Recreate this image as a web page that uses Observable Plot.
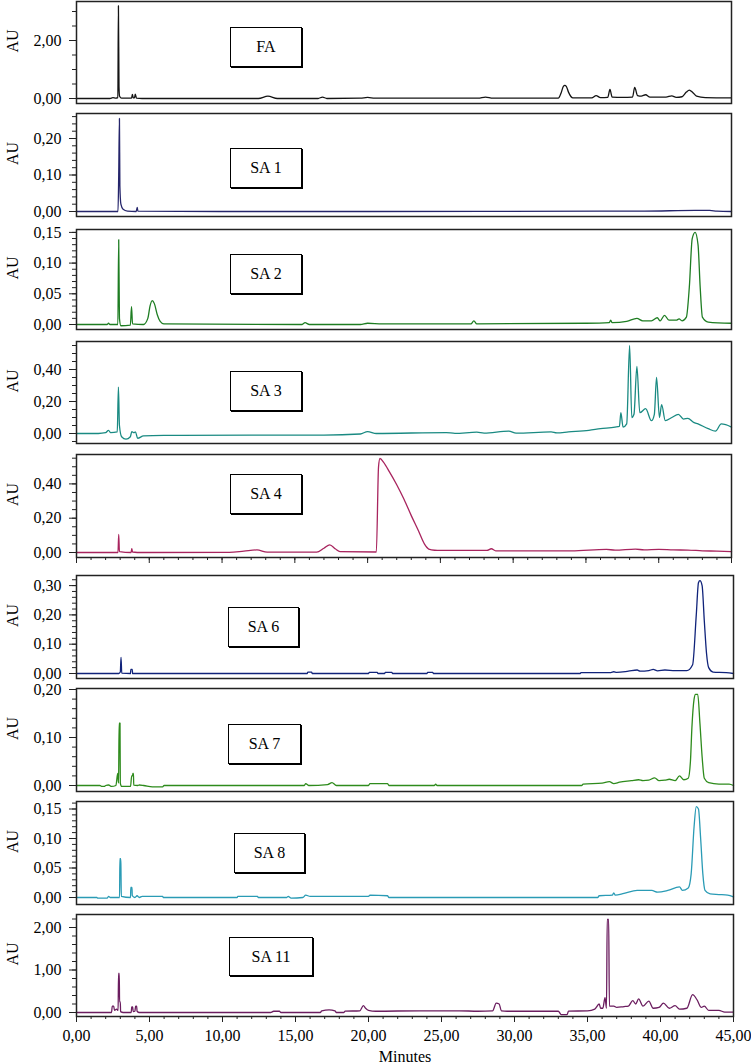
<!DOCTYPE html>
<html><head><meta charset="utf-8">
<script src="https://cdn.jsdelivr.net/npm/d3@7"></script>
<script src="https://cdn.jsdelivr.net/npm/@observablehq/plot@0.6"></script>
<style>
html,body{margin:0;padding:0;background:#fff;overflow:hidden;}
#chart{position:relative;width:751px;height:1064px;font-family:"Liberation Serif",serif;}
.panel{position:absolute;left:0;}
.label-box{position:absolute;border:1.6px solid #000;box-shadow:1px 1px 0 #000;background:#fff;display:flex;align-items:center;justify-content:center;font-family:"Liberation Serif",serif;font-size:16px;color:#000;box-sizing:border-box;white-space:pre;}
</style></head><body><div id="chart"></div>
<script>
// ---------- DATA ----------
const sampleNames = ["FA","SA 1","SA 2","SA 3","SA 4","SA 6","SA 7","SA 8","SA 11"];
const xMajorTicks = [0,5,10,15,20,25,30,35,40,45];
const xMinorTicks = [0,1,2,3,4,5,6,7,8,9,10,11,12,13,14,15,16,17,18,19,20,21,22,23,24,25,26,27,28,29,30,31,32,33,34,35,36,37,38,39,40,41,42,43,44,45];
const xLabel = "Minutes";
const yLabel = "AU";

const faTicks = [0,2];
const faMinor = [0,0.5,1,1.5,2,2.5,3];
const sa1Ticks = [0,0.1,0.2];
const sa1Minor = [0,0.02,0.04,0.06,0.08,0.1,0.12,0.14,0.16,0.18,0.2,0.22,0.24,0.26];
const sa2Ticks = [0,0.05,0.1,0.15];
const sa2Minor = [0,0.01,0.02,0.03,0.04,0.05,0.06,0.07,0.08,0.09,0.1,0.11,0.12,0.13,0.14,0.15];
const sa3Ticks = [0,0.2,0.4];
const sa3Minor = [-0.05,0,0.05,0.1,0.15,0.2,0.25,0.3,0.35,0.4,0.45,0.5,0.55];
const sa4Ticks = [0,0.2,0.4];
const sa4Minor = [0,0.05,0.1,0.15,0.2,0.25,0.3,0.35,0.4,0.45,0.5,0.55];
const sa6Ticks = [0,0.1,0.2,0.3];
const sa6Minor = [0,0.02,0.04,0.06,0.08,0.1,0.12,0.14,0.16,0.18,0.2,0.22,0.24,0.26,0.28,0.3,0.32];
const sa7Ticks = [0,0.1,0.2];
const sa7Minor = [0,0.02,0.04,0.06,0.08,0.1,0.12,0.14,0.16,0.18,0.2];
const sa8Ticks = [0,0.05,0.1,0.15];
const sa8Minor = [0,0.01,0.02,0.03,0.04,0.05,0.06,0.07,0.08,0.09,0.1,0.11,0.12,0.13,0.14,0.15,0.16];
const sa11Ticks = [0,1,2];
const sa11Minor = [0,0.2,0.4,0.6,0.8,1,1.2,1.4,1.6,1.8,2,2.2];

// traces: [minutes, AU]
const faTrace = [[0,0],[2.3,0],[2.5,0.03],[2.7,0.01],[2.84,0.03],[2.88,3.2],[2.92,0.4],[2.96,0.08],[3.1,0.01],[3.78,0.01],[3.84,0.14],[3.9,0.02],[3.98,0.02],[4.04,0.15],[4.12,0.01],[4.5,0],[12.5,0],[13.15,0.08],[13.8,0],[16.6,0],[16.9,0.05],[17.2,0],[19.5,0.01],[20.0,0.04],[20.5,0.01],[27.6,0.01],[28.1,0.05],[28.6,0.01],[33.1,0.01],[33.3,0.2],[33.45,0.42],[33.55,0.45],[33.65,0.42],[33.8,0.22],[34.1,0.02],[35.4,0.02],[35.7,0.1],[36.0,0.03],[36.5,0.04],[36.65,0.31],[36.8,0.05],[37.5,0.04],[38.2,0.05],[38.35,0.38],[38.55,0.1],[38.8,0.08],[39.1,0.13],[39.4,0.05],[40.5,0.05],[40.9,0.09],[41.2,0.04],[41.6,0.06],[41.9,0.22],[42.1,0.29],[42.35,0.2],[42.6,0.08],[43.2,0.03],[45,0.02]];
const sa1Trace = [[0,0],[2.85,0],[2.9,0.1],[2.95,0.255],[2.98,0.07],[3.05,0.02],[3.2,0.006],[3.5,0.001],[4.1,0],[4.17,0.011],[4.22,0.001],[10,0],[20,0],[36,0.001],[39,0.001],[42.5,0.003],[43.5,0.003],[44,0.001],[45,0]];
const sa2Trace = [[0,0],[2.1,0],[2.2,0.002],[2.3,0],[2.84,0],[2.9,0.138],[2.95,0.01],[3.05,-0.002],[3.7,-0.001],[3.78,0.029],[3.85,0.001],[4.6,0],[4.9,0.01],[5.05,0.03],[5.2,0.039],[5.35,0.034],[5.55,0.016],[5.75,0.005],[6,0.001],[15.5,0],[15.7,0.003],[16,0],[19.5,0],[20,0.002],[21,0.001],[27.1,0.001],[27.3,0.006],[27.5,0.001],[35,0.002],[36.6,0.003],[36.7,0.007],[36.8,0.003],[37.8,0.005],[38.5,0.01],[38.9,0.006],[39.5,0.006],[39.9,0.011],[40.1,0.006],[40.4,0.015],[40.7,0.007],[41.2,0.007],[41.4,0.009],[41.6,0.006],[41.9,0.012],[42.1,0.06],[42.3,0.14],[42.5,0.15],[42.7,0.13],[42.85,0.06],[43,0.012],[43.4,0.004],[45,0.002]];
const sa3Trace = [[0,0],[1.5,0],[2.0,0.005],[2.2,0.02],[2.35,0.005],[2.8,0.01],[2.88,0.29],[2.95,0.05],[3.1,-0.02],[3.4,-0.035],[3.7,-0.02],[3.8,0.012],[3.95,0.005],[4.05,0.01],[4.2,-0.03],[4.6,-0.015],[6,-0.012],[12,-0.01],[17,-0.01],[19.5,-0.003],[20,0.012],[20.6,0],[25.4,0.006],[26,0.001],[27.5,0.008],[28,0.002],[29.7,0.015],[30.2,0.002],[32.6,0.01],[33,0.004],[33.8,0.01],[35.2,0.02],[36,0.03],[37.0,0.04],[37.3,0.045],[37.4,0.13],[37.55,0.04],[37.8,0.06],[38.0,0.55],[38.15,0.1],[38.3,0.12],[38.5,0.42],[38.7,0.13],[39.1,0.155],[39.5,0.08],[39.7,0.12],[39.85,0.35],[40.05,0.1],[40.2,0.18],[40.45,0.08],[40.9,0.1],[41.35,0.12],[41.7,0.09],[42.0,0.095],[42.4,0.07],[42.7,0.06],[43.4,0.03],[43.9,0.015],[44.3,0.06],[44.6,0.055],[45,0.04]];
const sa4Trace = [[0,0],[2.85,0],[2.9,0.105],[2.95,0.005],[3.75,0],[3.8,0.022],[3.85,0.003],[4.5,0],[10.5,0.001],[11.5,0.008],[12.4,0.015],[13.1,0.002],[16.5,0.002],[17.0,0.025],[17.4,0.045],[17.8,0.02],[18.1,0.005],[20.6,0.003],[20.75,0.5],[20.85,0.548],[21.1,0.525],[21.5,0.47],[22.0,0.395],[22.5,0.31],[23.0,0.215],[23.5,0.125],[23.9,0.05],[24.2,0.02],[24.6,0.013],[25,0.012],[28.2,0.012],[28.5,0.022],[28.8,0.01],[34,0.01],[36.4,0.018],[37,0.014],[38.4,0.02],[39,0.015],[40,0.018],[41,0.015],[42,0.014],[43,0.01],[44,0.008],[45,0.005]];
const sa6Trace = [[0,0],[2.9,0],[3.0,0.005],[3.05,0.055],[3.1,0.001],[3.7,0],[3.72,0.014],[3.82,0.014],[3.84,0],[15.8,0],[15.85,0.005],[16.1,0.005],[16.15,0],[20,0],[20.05,0.004],[20.6,0.004],[20.65,0],[21.1,0],[21.15,0.004],[21.6,0.004],[21.65,0],[24.0,0],[24.05,0.004],[24.4,0.004],[24.45,0],[34.5,0],[34.55,0.003],[36.6,0.003],[36.8,0.006],[37,0.004],[37.8,0.008],[38.4,0.012],[38.6,0.008],[39.2,0.01],[39.5,0.014],[39.8,0.009],[40.3,0.012],[41,0.01],[41.8,0.01],[42.2,0.03],[42.45,0.2],[42.6,0.31],[42.7,0.317],[42.85,0.3],[43.0,0.18],[43.15,0.07],[43.3,0.02],[43.6,0.005],[44.5,0.003],[45,0]];
const sa7Trace = [[0,0],[1.6,0],[1.75,-0.002],[1.9,-0.002],[2.0,0],[2.2,0.001],[2.4,-0.002],[2.7,0],[2.82,0.025],[2.88,0.005],[2.92,0.13],[2.98,0.13],[3.0,0.005],[3.1,-0.002],[3.7,-0.002],[3.78,0.02],[3.84,0.02],[3.86,0.025],[3.9,0.025],[3.92,0.001],[4.2,0],[4.3,0.001],[4.6,0],[5.2,-0.003],[5.9,-0.003],[6.0,0],[15.6,0],[15.7,0.004],[15.9,0],[17.2,0.002],[17.5,0.006],[17.8,0],[20.0,0],[20.1,0.004],[21.3,0.004],[21.4,0],[24.5,0],[24.6,0.003],[24.7,0],[34.6,0],[34.7,0.003],[36,0.005],[36.5,0.008],[36.8,0.004],[37.2,0.007],[38,0.01],[38.5,0.012],[38.8,0.01],[39.2,0.011],[39.6,0.016],[39.9,0.01],[40.3,0.011],[40.6,0.013],[41,0.01],[41.3,0.02],[41.6,0.012],[41.9,0.015],[42.05,0.05],[42.15,0.12],[42.3,0.18],[42.4,0.19],[42.55,0.19],[42.7,0.13],[42.85,0.06],[43.0,0.015],[43.3,0.006],[44,0.003],[44.7,0.003],[45,0]];
const sa8Trace = [[0,0],[1.4,0],[1.45,-0.001],[2.1,-0.001],[2.2,0.002],[2.3,0],[2.95,0],[2.97,0.066],[3.02,0.066],[3.04,0.057],[3.07,0.002],[3.7,0],[3.72,0.017],[3.8,0.017],[3.82,0.003],[4.0,0],[4.15,0.003],[4.3,0],[4.5,0.002],[5.9,0.002],[5.95,0],[11.0,0],[11.05,0.002],[12.4,0.002],[12.45,0],[14.4,0],[14.5,0.002],[14.7,-0.001],[15.5,0],[15.7,0.004],[16,0.002],[20,0.002],[20.1,0.004],[21.3,0.003],[21.4,0],[35.7,0],[35.8,0.003],[36.7,0.004],[36.8,0.008],[36.9,0.004],[37.5,0.007],[38.4,0.012],[39.4,0.012],[39.8,0.009],[40.5,0.012],[41.3,0.018],[41.5,0.012],[41.9,0.016],[42.1,0.04],[42.3,0.12],[42.45,0.154],[42.6,0.15],[42.75,0.1],[42.9,0.04],[43.05,0.012],[43.4,0.006],[44,0.005],[44.6,0.004],[45,0.001]];
const sa11Trace = [[0,0],[2.4,0],[2.45,0.15],[2.55,0.15],[2.6,0.05],[2.75,0.08],[2.85,0.05],[2.88,0.92],[2.93,0.92],[2.95,0.25],[3.0,0.25],[3.02,0.02],[3.2,0],[3.75,0],[3.78,0.13],[3.85,0.13],[3.88,0.02],[4.0,0.03],[4.05,0.15],[4.12,0.15],[4.15,0.03],[4.3,0],[13.3,0],[13.5,0.03],[13.9,0.03],[14.0,0],[16.7,0],[16.8,0.04],[17.3,0.06],[17.7,0.04],[17.8,0],[18.3,0],[18.4,0.03],[19.4,0.04],[19.65,0.16],[19.8,0.1],[20.0,0.05],[20.5,0.03],[23.5,0.04],[26.2,0.04],[27.5,0.03],[28.5,0.04],[28.75,0.22],[28.95,0.2],[29.1,0.04],[29.5,0.03],[33.0,0.03],[33.2,-0.05],[33.6,-0.05],[33.7,0.03],[35.0,0.04],[35.5,0.08],[35.8,0.2],[35.9,0.1],[36.05,0.1],[36.2,0.35],[36.3,0.1],[36.35,2.19],[36.45,2.19],[36.5,0.15],[36.8,0.15],[37.0,0.12],[37.5,0.14],[37.8,0.15],[38.1,0.28],[38.3,0.2],[38.5,0.32],[38.8,0.15],[39.2,0.27],[39.5,0.1],[39.9,0.12],[40.2,0.22],[40.6,0.1],[41.0,0.16],[41.3,0.08],[41.8,0.1],[42.2,0.42],[42.5,0.3],[42.8,0.12],[43.0,0.15],[43.3,0.05],[44,0.05],[44.4,0.01],[45,0.01]];

// ---------- LAYOUT / STYLE ----------
// T/B: frame top/bottom px, Z: zero-line px, k: px per AU, R: frame right px
const layout = [
  {trace: faTrace,   ticks: faTicks,   minor: faMinor,   color: "#141414", T: 1,   B: 103,  Z: 98,   k: 29,    R: 731, box: [230, 27, 72, 40]},
  {trace: sa1Trace,  ticks: sa1Ticks,  minor: sa1Minor,  color: "#25256b", T: 113, B: 216,  Z: 211,  k: 365,   R: 731, box: [230, 148, 72, 40]},
  {trace: sa2Trace,  ticks: sa2Ticks,  minor: sa2Minor,  color: "#1e7d22", T: 229, B: 329,  Z: 324,  k: 614,   R: 731, box: [230, 254, 72, 40]},
  {trace: sa3Trace,  ticks: sa3Ticks,  minor: sa3Minor,  color: "#1a8a82", T: 341, B: 443,  Z: 433,  k: 160,   R: 731, box: [230, 371, 72, 40]},
  {trace: sa4Trace,  ticks: sa4Ticks,  minor: sa4Minor,  color: "#a8245e", T: 454, B: 557,  Z: 552,  k: 171.5, R: 731, box: [230, 474, 72, 40], xTicks: true},
  {trace: sa6Trace,  ticks: sa6Ticks,  minor: sa6Minor,  color: "#10237a", T: 575, B: 678,  Z: 673,  k: 293,   R: 733, box: [228, 607, 71, 40]},
  {trace: sa7Trace,  ticks: sa7Ticks,  minor: sa7Minor,  color: "#2e8b1c", T: 688, B: 791,  Z: 785,  k: 480,   R: 733, box: [228, 724, 73, 40]},
  {trace: sa8Trace,  ticks: sa8Ticks,  minor: sa8Minor,  color: "#2a9bb5", T: 801, B: 904,  Z: 897,  k: 590,   R: 733, box: [234, 833, 71, 40]},
  {trace: sa11Trace, ticks: sa11Ticks, minor: sa11Minor, color: "#6b1d5f", T: 914, B: 1016, Z: 1012, k: 42.5,  R: 733, box: [229, 937, 84, 39], xAxis: true}
];

const W = 751, ML = 76, MT = 12;
const fmt = d => d3.format(".2f")(d).replace(".", ",");
const chart = document.getElementById("chart");

layout.forEach((p, i) => {
  const MB = p.xAxis ? 50 : 12;
  const h = (p.B - p.T) + MT + MB;
  const yDomain = [-(p.B - p.Z) / p.k, (p.Z - p.T) / p.k];
  const marks = [
    Plot.axisY(p.minor, {tickSize: 4, tickFormat: () => "", label: null, stroke: "#222"}),
    Plot.axisY(p.ticks, {tickSize: 7, tickPadding: 8, tickFormat: fmt, label: null, fontSize: 16, stroke: "#222"}),
    Plot.line(p.trace, {x: d => d[0], y: d => d[1], stroke: p.color, strokeWidth: 1.3, curve: "monotone-x"}),
    Plot.frame({stroke: "#222", strokeWidth: 1.5}),
    Plot.text([yLabel], {frameAnchor: "left", dx: -64, rotate: -90, fontSize: 16, fill: "#000"})
  ];
  if (p.xTicks || p.xAxis) {
    marks.push(Plot.axisX(xMinorTicks, {tickSize: 3, tickFormat: () => "", label: null, stroke: "#222"}));
    marks.push(Plot.axisX(xMajorTicks, {tickSize: 6, tickPadding: 7, tickFormat: p.xAxis ? fmt : () => "", label: null, fontSize: 16, stroke: "#222"}));
  }
  if (p.xAxis) {
    marks.push(Plot.text([xLabel], {frameAnchor: "bottom", dy: 45, fontSize: 16, fill: "#000"}));
  }
  const svg = Plot.plot({
    width: W, height: h,
    marginLeft: ML, marginRight: W - p.R, marginTop: MT, marginBottom: MB,
    style: {background: "transparent", overflow: "visible", fontFamily: "'Liberation Serif', serif", fontSize: "16px", color: "#000"},
    x: {domain: [0, 45], axis: (p.xTicks || p.xAxis) ? undefined : null},
    y: {domain: yDomain},
    marks
  });
  svg.classList.add("panel");
  svg.style.top = (p.T - MT) + "px";
  svg.style.position = "absolute";
  svg.style.left = "0px";
  chart.appendChild(svg);
});

layout.forEach((p, i) => {
  const b = document.createElement("div");
  b.className = "label-box";
  b.style.left = p.box[0] + "px";
  b.style.top = p.box[1] + "px";
  b.style.width = p.box[2] + "px";
  b.style.height = p.box[3] + "px";
  b.textContent = sampleNames[i];
  chart.appendChild(b);
});
</script></body></html>
